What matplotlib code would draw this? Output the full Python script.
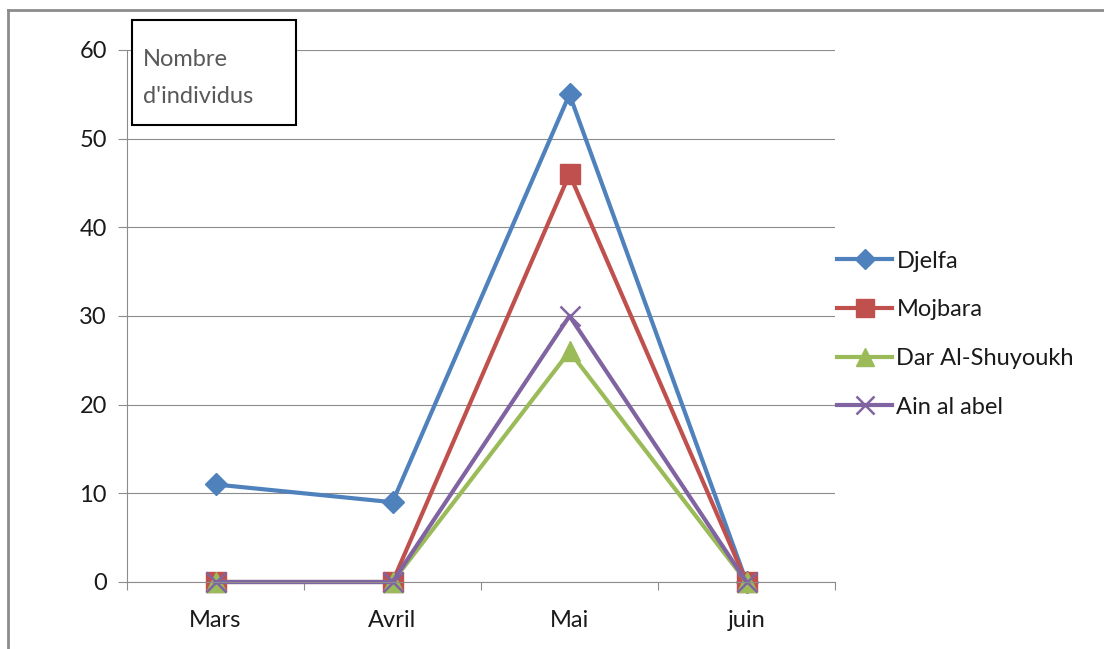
import matplotlib
matplotlib.use("Agg")
import matplotlib.pyplot as plt
from matplotlib.lines import Line2D
from matplotlib.patches import Rectangle

plt.rcParams['font.family'] = ['Lato', 'DejaVu Sans']

months = ["Mars", "Avril", "Mai", "juin"]
djelfa = [11, 9, 55, 0]
mojbara = [0, 0, 46, 0]
dar_al_shuyoukh = [0, 0, 26, 0]
ain_al_abel = [0, 0, 30, 0]

series = [
    ("Djelfa", djelfa, "#4F81BD", "D", 11),
    ("Mojbara", mojbara, "#C0504D", "s", 14),
    ("Dar Al-Shuyoukh", dar_al_shuyoukh, "#9BBB59", "^", 15),
    ("Ain al abel", ain_al_abel, "#8064A2", "x", 14),
]

grid_col = "#8c8c8c"
txt_col = "#1a1a1a"
fs = 17
W, H = 1104, 649
fig = plt.figure(figsize=(W / 100, H / 100), dpi=100)
ax = fig.add_axes([127 / W, 67 / H, 708 / W, 532 / H])

xs = [i + 0.5 for i in range(len(months))]
for name, vals, col, mk, ms in series:
    if mk == "x":
        ax.plot(xs, vals, color=col, lw=3, marker=mk, ms=ms, mew=1.8,
                label=name, clip_on=False)
    else:
        ax.plot(xs, vals, color=col, lw=3, marker=mk, ms=ms, mec=col,
                label=name, clip_on=False)

ax.set_xlim(0, 4)
ax.set_ylim(0, 60)
ax.set_yticks(range(0, 61, 10))
ax.set_xticks(xs)
ax.set_xticklabels(months)
ax.set_xticks(range(5), minor=True)
ax.tick_params(axis="x", which="major", length=0, pad=20, labelsize=fs,
               colors=txt_col)
ax.tick_params(axis="x", which="minor", length=6, width=0.8, color=grid_col)
ax.tick_params(axis="y", length=6.5, width=0.8, color=grid_col, pad=8,
               labelsize=fs, labelcolor=txt_col)
ax.grid(axis="y", color=grid_col, lw=0.8)
ax.set_axisbelow(True)
for s in ("top", "right"):
    ax.spines[s].set_visible(False)
for s in ("left", "bottom"):
    ax.spines[s].set_color(grid_col)
    ax.spines[s].set_linewidth(0.8)

leg = ax.legend(loc="center left", bbox_to_anchor=(1.0, 0.466), frameon=False,
                fontsize=fs, handlelength=2.3, handletextpad=0.2,
                labelspacing=1.17, borderaxespad=0.0, borderpad=0.1,
                markerscale=0.9)
for t in leg.get_texts():
    t.set_color(txt_col)

# axis title box
fig.add_artist(Rectangle((132 / W, 1 - 125 / H), 164 / W, 105 / H,
                         transform=fig.transFigure, fill=True, fc="white",
                         ec="black", lw=1.5, zorder=5))
fig.text(143 / W, 1 - 78 / H, "Nombre\nd'individus", fontsize=fs,
         color="#595959", va="center", ha="left", linespacing=1.95, zorder=6)

# outer chart frame
fig.add_artist(Line2D([8 / W, 1], [1 - 10 / H, 1 - 10 / H],
                      transform=fig.transFigure, color="#8c8c8c", lw=2))
fig.add_artist(Line2D([8 / W, 8 / W], [0, 1 - 10 / H],
                      transform=fig.transFigure, color="#8c8c8c", lw=2))

fig.savefig("out.png", dpi=100)
